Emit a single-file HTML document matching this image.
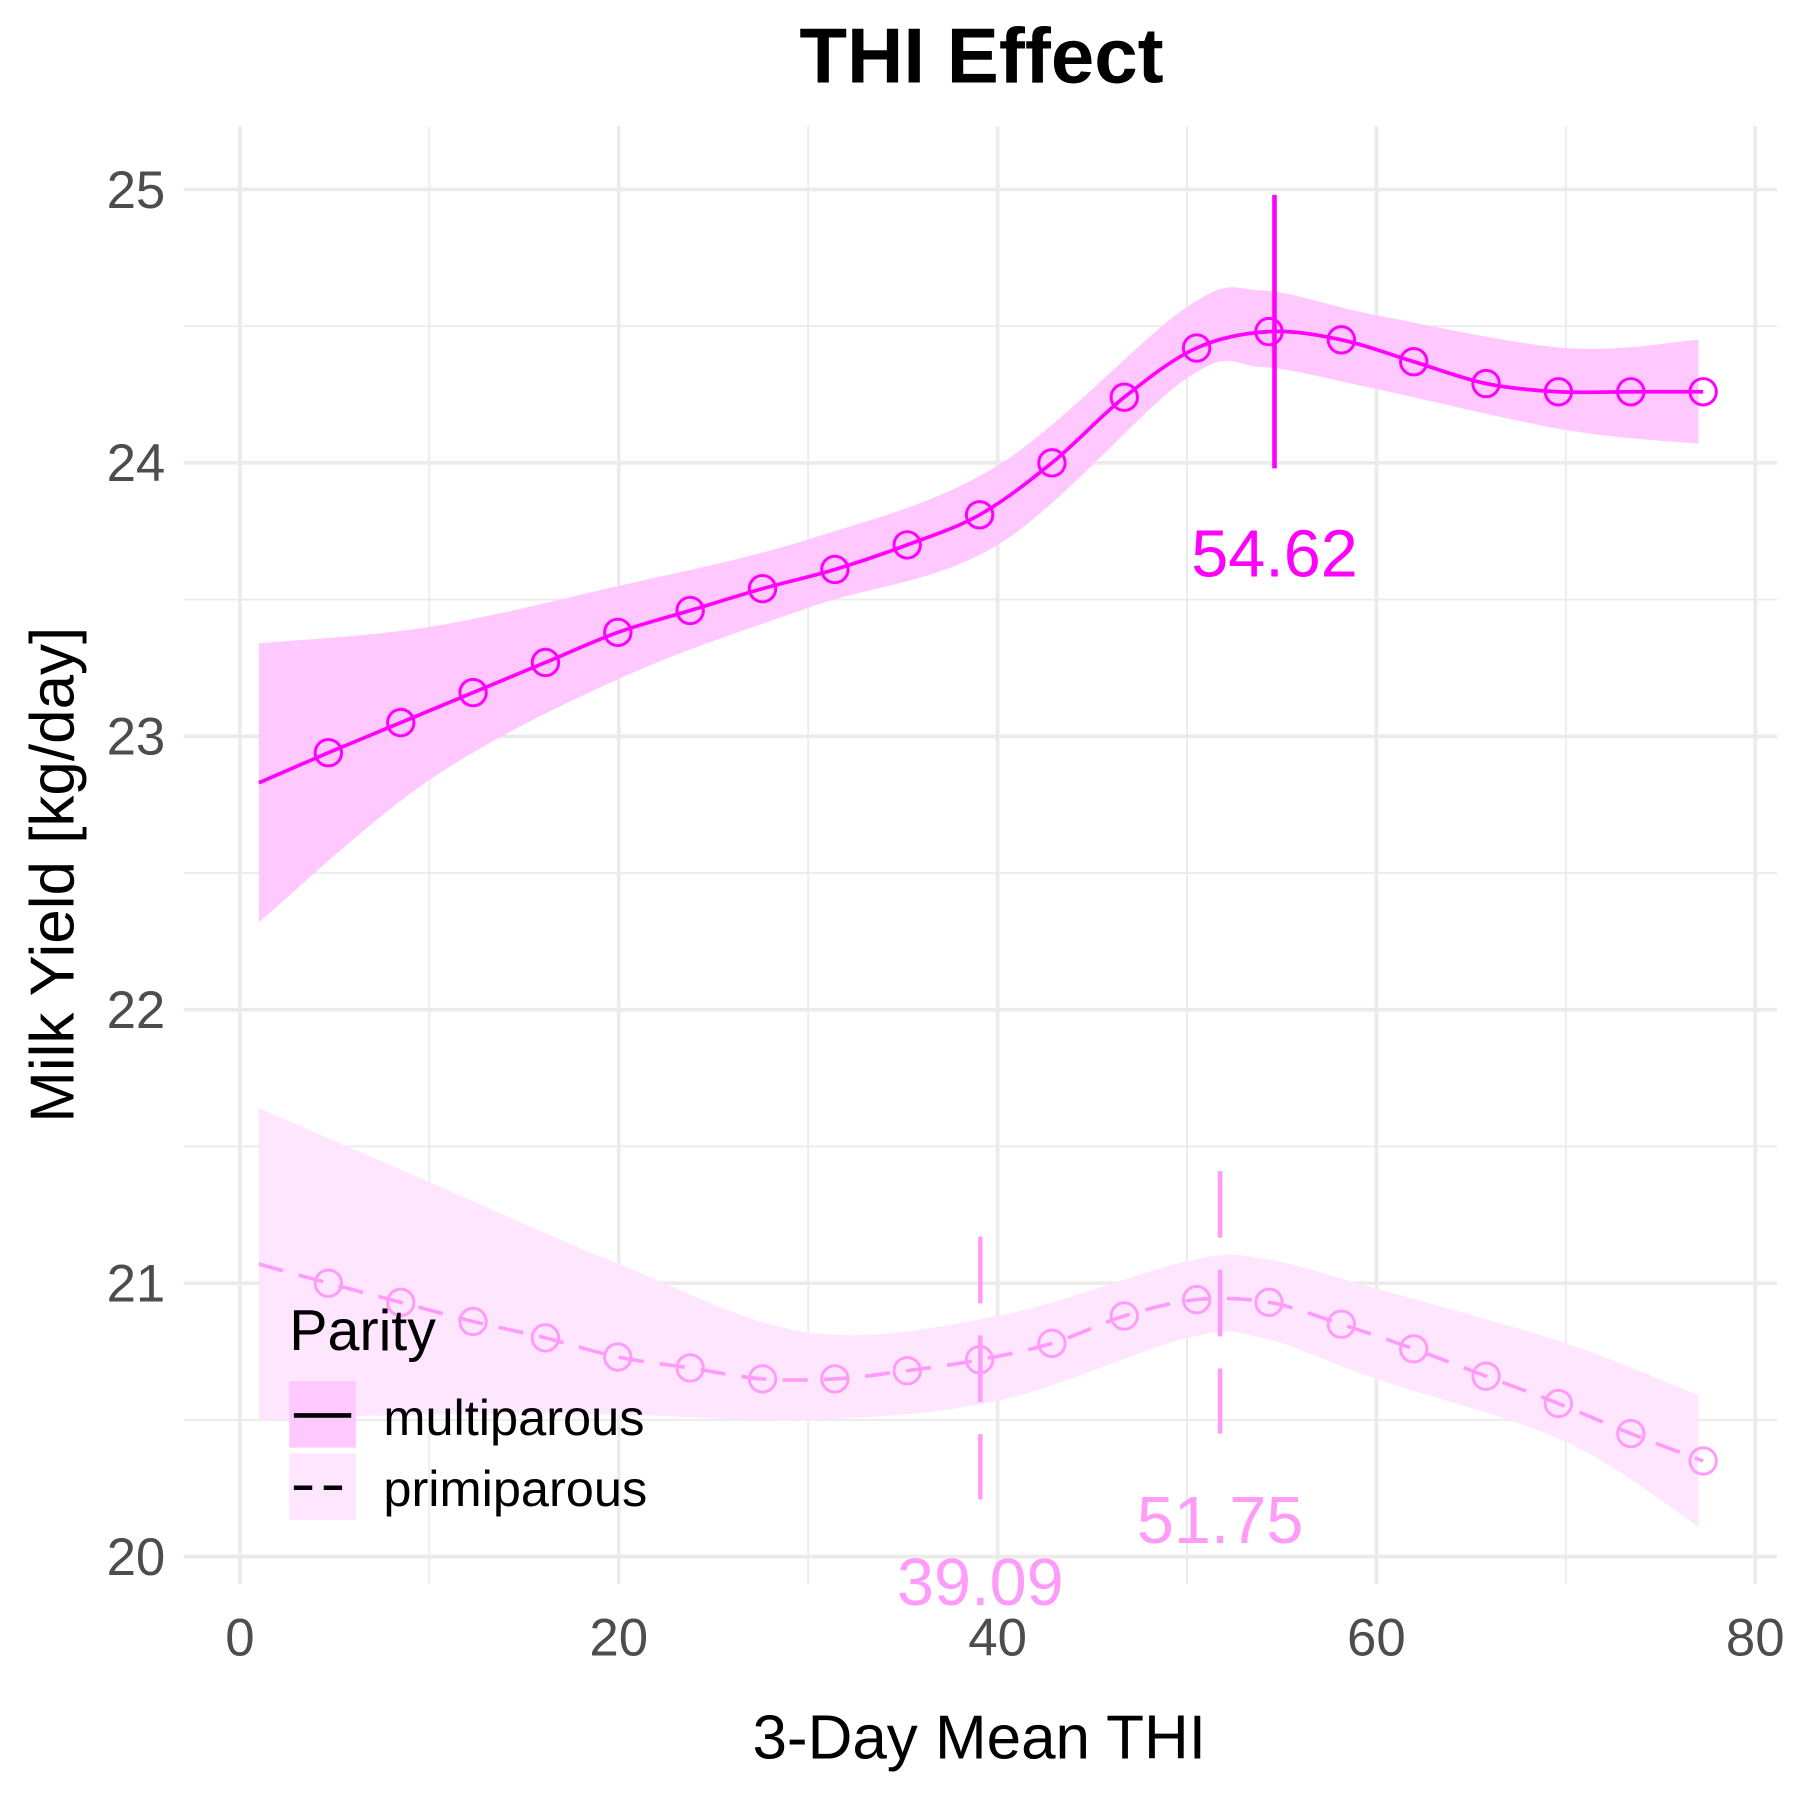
<!DOCTYPE html>
<html><head><meta charset="utf-8"><style>
html,body{margin:0;padding:0;background:#fff;}
svg{display:block;font-family:"Liberation Sans",sans-serif;}
</style></head><body>
<svg id="chart" width="1800" height="1800" viewBox="0 0 1568 1568" xmlns="http://www.w3.org/2000/svg">
<g id="grid"></g>
<g id="series"></g>
<text x="855" y="72" text-anchor="middle" font-size="68" font-weight="bold">THI Effect</text>
<text x="853" y="1532" text-anchor="middle" font-size="54">3-Day Mean THI</text>
<text transform="translate(64,762) rotate(-90)" text-anchor="middle" font-size="54">Milk Yield [kg/day]</text>
<g>
<text x="252" y="1176" font-size="50">Parity</text>
<rect x="252" y="1203" width="58" height="58" fill="#ffc8ff"/>
<line x1="256" y1="1233" x2="306" y2="1233" stroke="#000" stroke-width="4"/>
<text x="334" y="1250" font-size="44">multiparous</text>
<rect x="252" y="1266" width="58" height="58" fill="#ffe6ff"/>
<line x1="256" y1="1296" x2="306" y2="1296" stroke="#000" stroke-width="4" stroke-dasharray="16,10"/>
<text x="334" y="1312" font-size="44">primiparous</text>
</g>
</svg>
<script>
const xTicks=[0,20,40,60,80];
const yTicks=[20,21,22,23,24,25];
const pointX=[4.67,8.49,12.31,16.13,19.95,23.77,27.59,31.41,35.23,39.05,42.87,46.69,50.51,54.33,58.15,61.97,65.79,69.61,73.43,77.25];
const multiY=[22.94,23.05,23.16,23.27,23.38,23.46,23.54,23.61,23.70,23.81,24.00,24.24,24.42,24.48,24.45,24.37,24.29,24.26,24.26,24.26];
const primiY=[21.00,20.93,20.86,20.80,20.73,20.69,20.65,20.65,20.68,20.72,20.78,20.88,20.94,20.93,20.85,20.76,20.66,20.56,20.45,20.35];
const multiStart=22.83, primiStart=21.07;
const ribbonX=[1,10,20,30,40,50,54,60,70,77];
const multiUpper=[23.34,23.40,23.55,23.72,23.99,24.57,24.63,24.54,24.42,24.45];
const multiLower=[22.32,22.84,23.21,23.47,23.70,24.31,24.35,24.27,24.12,24.07];
const primiUpper=[21.64,21.37,21.07,20.82,20.88,21.08,21.09,20.98,20.78,20.59];
const primiLower=[20.50,20.52,20.52,20.50,20.57,20.80,20.80,20.65,20.42,20.11];
const multiPeak=[54.62], primiPeaks=[39.09,51.75];
const NS='http://www.w3.org/2000/svg';
const X=v=>209+v*16.5, Y=v=>1356-(v-20)*238.2;
function mk(t,a,p){const e=document.createElementNS(NS,t);for(const k in a)e.setAttribute(k,a[k]);p.appendChild(e);return e;}
const grid=document.getElementById('grid'), ser=document.getElementById('series');
for(let v=10;v<=70;v+=20){const l=mk('line',{x1:X(v),x2:X(v),y1:110,y2:1380,stroke:'#ebebeb','stroke-width':1.6},grid);}
for(let v=20.5;v<25.5;v+=1){const l=mk('line',{x1:160,x2:1548,y1:Y(v),y2:Y(v),stroke:'#ebebeb','stroke-width':1.6},grid);}
xTicks.forEach(v=>{const l=mk('line',{x1:X(v),x2:X(v),y1:110,y2:1380,stroke:'#ebebeb','stroke-width':3.2},grid);
const t=mk('text',{x:X(v),y:1442,'text-anchor':'middle','font-size':46,fill:'#4d4d4d'},grid);t.textContent=v;});
yTicks.forEach(v=>{const l=mk('line',{x1:160,x2:1548,y1:Y(v),y2:Y(v),stroke:'#ebebeb','stroke-width':3.2},grid);
const t=mk('text',{x:144,y:Y(v)+16,'text-anchor':'end','font-size':46,fill:'#4d4d4d'},grid);t.textContent=v;});
function smooth(pts){let d='M'+pts[0][0]+','+pts[0][1];for(let i=0;i<pts.length-1;i++){const p0=pts[i-1]||pts[i],p1=pts[i],p2=pts[i+1],p3=pts[i+2]||p2;
d+=' C'+(p1[0]+(p2[0]-p0[0])/6)+','+(p1[1]+(p2[1]-p0[1])/6)+' '+(p2[0]-(p3[0]-p1[0])/6)+','+(p2[1]-(p3[1]-p1[1])/6)+' '+p2[0]+','+p2[1];}return d;}
function ribbon(up,lo,fill,name){const u=ribbonX.map((x,i)=>[X(x),Y(up[i])]);const l=ribbonX.map((x,i)=>[X(x),Y(lo[i])]).reverse();
const d=smooth(u)+' L'+smooth(l).slice(1)+' Z';const p=mk('path',{d:d,fill:fill},ser);}
ribbon(multiUpper,multiLower,'#ffc8ff','multiparous-ci-ribbon');
ribbon(primiUpper,primiLower,'#ffe6ff','primiparous-ci-ribbon');
function series(start,ys,col,dash,name){const pts=[[X(1),Y(start)]].concat(pointX.map((x,i)=>[X(x),Y(ys[i])]));
const p=mk('path',{d:smooth(pts),fill:'none',stroke:col,'stroke-width':3.2,'stroke-dasharray':dash},ser);
pointX.forEach((x,i)=>{const c=mk('circle',{cx:X(x),cy:Y(ys[i]),r:11.5,fill:'none',stroke:col,'stroke-width':2.6},ser);});}
series(multiStart,multiY,'#ff00ff','none','multiparous');
series(primiStart,primiY,'#ff9cf9','22,14','primiparous');
multiPeak.forEach(v=>{const l=mk('line',{x1:X(v),x2:X(v),y1:Y(24.98),y2:Y(23.98),stroke:'#ff00ff','stroke-width':4},ser);
const t=mk('text',{x:X(v),y:502,'text-anchor':'middle','font-size':58,fill:'#ff00ff'},ser);t.textContent=v.toFixed(2);});
const pk=[[21.17,20.21,1398],[21.41,20.45,1344]];
primiPeaks.forEach((v,i)=>{const l=mk('line',{x1:X(v),x2:X(v),y1:Y(pk[i][0]),y2:Y(pk[i][1]),stroke:'#ff9cf9','stroke-width':4,'stroke-dasharray':'58,28'},ser);
const t=mk('text',{x:X(v),y:pk[i][2],'text-anchor':'middle','font-size':58,fill:'#ff9cf9'},ser);t.textContent=v.toFixed(2);});
</script>
</body></html>
